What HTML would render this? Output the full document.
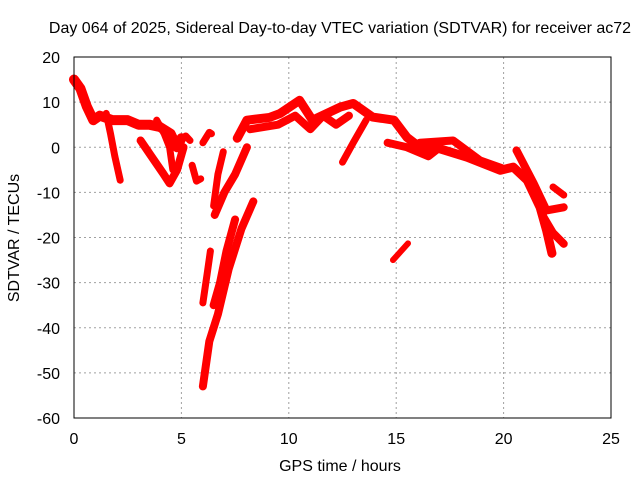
<!DOCTYPE html>
<html><head><meta charset="utf-8"><style>
body{margin:0;background:#fff}
svg{display:block;font-family:"Liberation Sans",sans-serif;font-size:16px}
</style></head><body>
<svg id="chart" width="640" height="480">
<text x="340" y="33" text-anchor="middle">Day 064 of 2025, Sidereal Day-to-day VTEC variation (SDTVAR) for receiver ac72</text>
<text x="340" y="471" text-anchor="middle">GPS time / hours</text>
<text transform="translate(19,238) rotate(-90)" text-anchor="middle">SDTVAR / TECUs</text>
<g id="grid"></g>
<g id="ticks"></g>
<g id="marks"></g>
<rect x="74" y="57" width="537" height="361" fill="none" stroke="#000" stroke-width="1"/>
</svg>
<script>
const xTicks=[0,5,10,15,20,25];
const yTicks=[20,10,0,-10,-20,-30,-40,-50,-60];
const trackMain=[[0,15],[0.3,13],[0.6,9],[0.9,6],[1.2,7],[1.8,6],[2.5,6],[3,5],[3.5,5],[4,4.5],[4.5,3],[4.8,0],[5,2]];
const track2=[[1.5,7.5],[1.7,3],[1.9,-2],[2.15,-7.3]];
const track3=[[3.1,1.5],[3.6,-2],[4.15,-5.8],[4.45,-8],[4.8,-5],[5.1,0]];
const track4=[[3.85,6],[4.2,3],[4.45,0],[4.6,-5]];
const track5=[[5.2,2.5],[5.4,1.5]];
const track6=[[5.5,-4],[5.7,-7.5],[5.9,-7]];
const track7=[[6,1],[6.3,3.3],[6.4,3]];
const track8=[[6.95,-1],[6.7,-6],[6.5,-13]];
const track9=[[8.05,0],[7.5,-6],[7,-10],[6.55,-15]];
const track10=[[8.35,-12],[7.8,-18],[7.2,-27],[6.7,-37],[6.3,-43],[6.0,-53]];
const track11=[[7.5,-16],[7.1,-23],[6.8,-30],[6.5,-35]];
const track12=[[6.35,-23],[6.2,-28],[6.0,-34.5]];
const track13=[[7.6,2],[8.05,6],[9.1,6.6],[9.6,7.5],[10.5,10.4],[11.1,6],[12.4,8.9],[13,9.7],[13.9,6.7],[14.9,6],[15.5,2.2],[16.1,0],[17,-0.3],[18.3,-2.2],[19.85,-5.1],[20.45,-4.4],[21.1,-7.3],[21.7,-13.3],[22,-18.4],[22.25,-23.5]];
const track14=[[16.1,1],[17.65,1.5],[18.9,-2.9],[19.9,-4.6]];
const track15=[[12.5,-3.3],[13,1],[13.6,6]];
const track16=[[20.6,-0.7],[21.4,-8],[22,-14],[22.8,-13.3]];
const track17=[[21.8,-15],[22.3,-19],[22.8,-21.4]];
const track18=[[22.3,-8.8],[22.8,-10.6]];
const track19=[[14.85,-25],[15.55,-21.3]];
const track20=[[14.6,1],[15.5,0],[16.5,-2],[16.9,-0.5]];
const track21=[[8.2,4],[9.5,5],[10.3,7],[11,4],[11.6,7],[12.2,5],[12.8,7]];
const tracks=[trackMain,track2,track3,track4,track5,track6,track7,track8,track9,track10,track11,track12,track13,track14,track15,track16,track17,track18,track19,track20,track21];
const widths=[10,7,8,7,7,7,7,7,8,8,8,7,9,8,7,8,8,7,6,8,8];
const NS='http://www.w3.org/2000/svg';
const X=h=>74+h*(537/25);
const Y=v=>57+(20-v)*(361/80);
const grid=document.getElementById('grid'),ticks=document.getElementById('ticks'),marks=document.getElementById('marks');
function mk(t,a,p){const e=document.createElementNS(NS,t);for(const k in a)e.setAttribute(k,a[k]);p.appendChild(e);return e;}
xTicks.forEach(t=>{
 if(t>0&&t<25){const g=mk('line',{x1:X(t),x2:X(t),y1:57,y2:418,stroke:'#a0a0a0','stroke-dasharray':'2,3'},grid);
 
 }
 const l=mk('text',{x:X(t),y:444,'text-anchor':'middle'},ticks);l.textContent=t;
 
 
});
yTicks.forEach(t=>{
 if(t<20&&t>-60){const g=mk('line',{x1:74,x2:611,y1:Y(t),y2:Y(t),stroke:'#a0a0a0','stroke-dasharray':'2,3'},grid);
 
 }
 const l=mk('text',{x:60,y:Y(t)+6,'text-anchor':'end'},ticks);l.textContent=t;
 
 
});
tracks.forEach((tr,i)=>{
 const p=mk('polyline',{points:tr.map(d=>X(d[0])+','+Y(d[1])).join(' '),fill:'none',stroke:'#f00','stroke-width':widths[i],'stroke-linejoin':'round','stroke-linecap':'round'},marks);
 
 
});
</script>
</body></html>
